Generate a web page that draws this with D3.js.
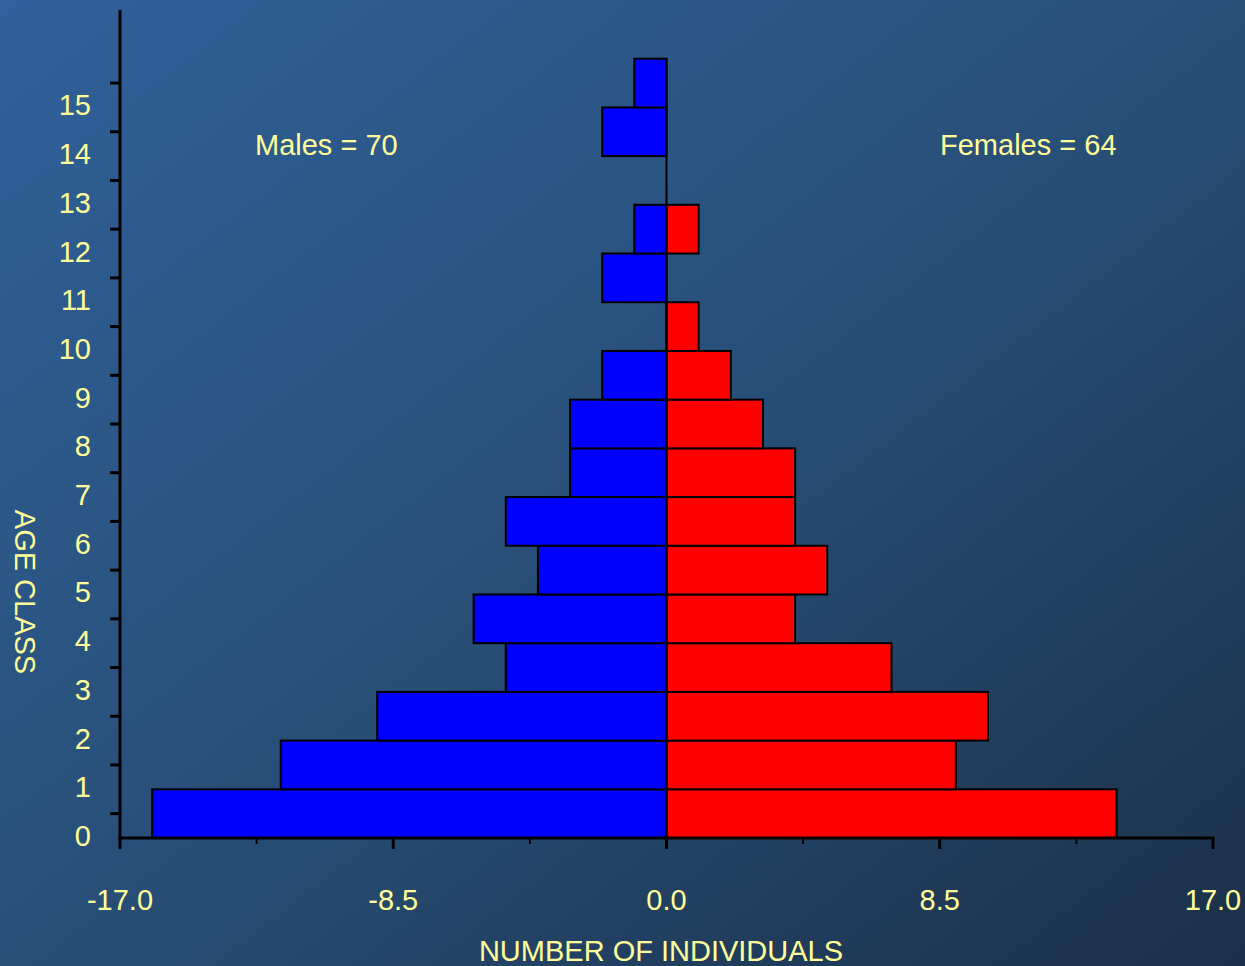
<!DOCTYPE html>
<html>
<head>
<meta charset="utf-8">
<script src="https://cdn.jsdelivr.net/npm/d3@7"></script>
<style>
  body { margin: 0; padding: 0; overflow: hidden; }
  svg text { font-family: "Liberation Sans", Arial, sans-serif; fill: #ffff99; }
</style>
</head>
<body>
<div id="chart"></div>
<script>
const width = 1245;
const height = 966;

// data
const ageClasses = [0, 1, 2, 3, 4, 5, 6, 7, 8, 9, 10, 11, 12, 13, 14, 15];
const males = [16, 12, 9, 5, 6, 4, 5, 3, 3, 2, 0, 2, 1, 0, 2, 1];
const females = [14, 9, 10, 7, 4, 5, 4, 4, 3, 2, 1, 0, 1, 0, 0, 0];
const xMajorTicks = [-17, -8.5, 0, 8.5, 17];
const xMinorTicks = [-12.75, -4.25, 4.25, 12.75];
const maleLabel = "Males = 70";
const femaleLabel = "Females = 64";

const svg = d3.select("#chart")
    .append("svg")
    .attr("width", width)
    .attr("height", height);

// background gradient
const grad = svg.append("defs").append("linearGradient")
    .attr("id", "bg")
    .attr("x1", "0%").attr("y1", "0%")
    .attr("x2", "100%").attr("y2", "100%");
grad.append("stop").attr("offset", "0%").attr("stop-color", "#30619a");
grad.append("stop").attr("offset", "50%").attr("stop-color", "#284f78");
grad.append("stop").attr("offset", "100%").attr("stop-color", "#1b3048");

svg.append("rect")
    .attr("width", width)
    .attr("height", height)
    .attr("fill", "url(#bg)");

const xScale = d3.scaleLinear()
    .domain([-17, 17])
    .range([120, 1213]);

const yScale = d3.scaleLinear()
    .domain([0, 17])
    .range([838, 10]);

// male bars (left)
svg.selectAll(".male")
    .data(ageClasses.filter((d, i) => males[i] > 0))
    .enter()
    .append("rect")
    .attr("class", "male")
    .attr("x", d => xScale(-males[d]))
    .attr("y", d => yScale(d + 1))
    .attr("width", d => xScale(0) - xScale(-males[d]))
    .attr("height", d => yScale(d) - yScale(d + 1))
    .attr("fill", "#0000ff")
    .attr("stroke", "#000")
    .attr("stroke-width", 2);

// female bars (right)
svg.selectAll(".female")
    .data(ageClasses.filter((d, i) => females[i] > 0))
    .enter()
    .append("rect")
    .attr("class", "female")
    .attr("x", xScale(0))
    .attr("y", d => yScale(d + 1))
    .attr("width", d => xScale(females[d]) - xScale(0))
    .attr("height", d => yScale(d) - yScale(d + 1))
    .attr("fill", "#ff0000")
    .attr("stroke", "#000")
    .attr("stroke-width", 2);

// centre line
svg.append("line")
    .attr("x1", xScale(0)).attr("x2", xScale(0))
    .attr("y1", yScale(16)).attr("y2", yScale(0))
    .attr("stroke", "#000")
    .attr("stroke-width", 2);

// Y axis: ticks at band centres, labels at band bottoms
const yAxis = svg.append("g");
yAxis.append("line")
    .attr("x1", 120).attr("x2", 120)
    .attr("y1", yScale(17)).attr("y2", yScale(0) + 1.5)
    .attr("stroke", "#000")
    .attr("stroke-width", 3);
yAxis.selectAll(".ytick")
    .data(ageClasses)
    .enter()
    .append("line")
    .attr("x1", 110).attr("x2", 120)
    .attr("y1", d => yScale(d + 0.5))
    .attr("y2", d => yScale(d + 0.5))
    .attr("stroke", "#000")
    .attr("stroke-width", 3);
yAxis.selectAll(".ylabel")
    .data(ageClasses)
    .enter()
    .append("text")
    .attr("x", 91)
    .attr("y", d => yScale(d) + 8)
    .attr("text-anchor", "end")
    .style("font-size", "29px")
    .text(d => d);

// X axis
const xAxis = svg.append("g");
xAxis.append("line")
    .attr("x1", xScale(-17) - 1.5).attr("x2", xScale(17) + 1.5)
    .attr("y1", 838).attr("y2", 838)
    .attr("stroke", "#000")
    .attr("stroke-width", 3);
xAxis.selectAll(".xmajor")
    .data(xMajorTicks)
    .enter()
    .append("line")
    .attr("x1", d => xScale(d)).attr("x2", d => xScale(d))
    .attr("y1", 838).attr("y2", 849)
    .attr("stroke", "#000")
    .attr("stroke-width", 3);
xAxis.selectAll(".xminor")
    .data(xMinorTicks)
    .enter()
    .append("line")
    .attr("x1", d => xScale(d)).attr("x2", d => xScale(d))
    .attr("y1", 838).attr("y2", 844)
    .attr("stroke", "#000")
    .attr("stroke-width", 2);
xAxis.selectAll(".xlabel")
    .data(xMajorTicks)
    .enter()
    .append("text")
    .attr("x", d => xScale(d))
    .attr("y", 910)
    .attr("text-anchor", "middle")
    .style("font-size", "29px")
    .text(d => d.toFixed(1));

// axis titles
svg.append("text")
    .attr("x", 661)
    .attr("y", 961)
    .attr("text-anchor", "middle")
    .style("font-size", "29px")
    .text("NUMBER OF INDIVIDUALS");

svg.append("text")
    .attr("transform", "translate(15,592) rotate(90)")
    .attr("text-anchor", "middle")
    .style("font-size", "29px")
    .text("AGE CLASS");

// totals
svg.append("text")
    .attr("x", 255)
    .attr("y", 155)
    .style("font-size", "29px")
    .text(maleLabel);

svg.append("text")
    .attr("x", 940)
    .attr("y", 155)
    .style("font-size", "29px")
    .text(femaleLabel);
</script>
</body>
</html>
